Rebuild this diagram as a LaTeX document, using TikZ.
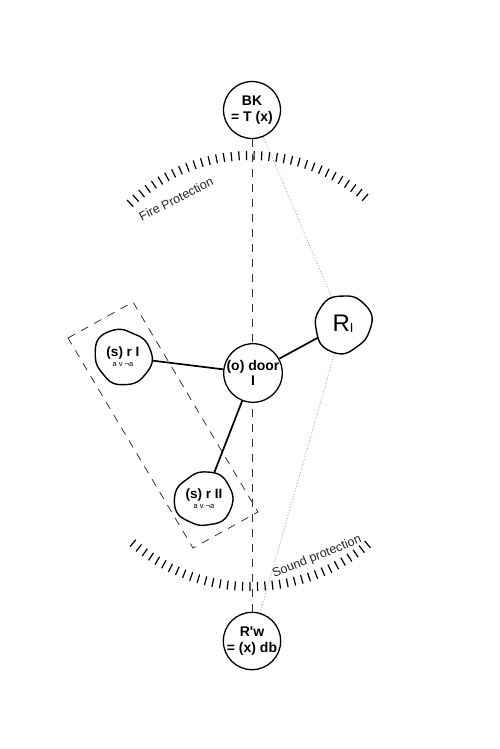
\documentclass[tikz,border=0pt]{standalone}
\usepackage{fontspec}
\setmainfont{Liberation Sans}
\usetikzlibrary{backgrounds}
\newcommand\myblob[4]{%
  \draw[blobline, shift={(#1.center)}] plot[smooth cycle, domain=0:350, samples=36, variable=\t]
    (\t:{#2*(1+#4*sin(2*\t+#3)+0.03*cos(3*\t+2*#3)+0.015*sin(7*\t+#3))});}
\begin{document}
\begin{tikzpicture}[x=1pt,y=-1pt,
  circ/.style={circle, draw, line width=1.3pt, fill=white, minimum size=57pt, inner sep=0pt,
    align=center, font=\fontsize{14}{15.5}\selectfont\bfseries},
  blobnode/.style={circle, minimum size=56pt, inner sep=0pt, align=center},
  blobline/.style={line width=1.4pt, fill=white},
  conn/.style={line width=1.7pt},
  dashv/.style={line width=0.9pt, dash pattern=on 8pt off 7pt, black!80},
  dashr/.style={line width=0.8pt, dash pattern=on 8pt off 7pt, black!80},
  dotl/.style={line width=0.8pt, dotted, black!40},
  tickm/.style={line width=1.2pt},
  lbl/.style={font=\fontsize{12.5}{13}\selectfont, text=black!85, inner sep=0pt}
]
\useasboundingbox (0,0) rectangle (500,749);

% nodes
\node[circ] (BK) at (252,110) {BK\\= T (x)};
\node[circ] (door) at (253,373) {(o) door\\I};
\node[circ] (Rw) at (252,641) {R\textquotesingle w\\= (x) db};
\node[blobnode] (rI) at (123,357) {{\fontsize{13.5}{14}\selectfont\bfseries (s) r I}\\[-2pt]{\fontsize{7.5}{8}\selectfont a v ¬a}};
\node[blobnode] (rII) at (204,499) {{\fontsize{13.5}{14}\selectfont\bfseries (s) r II}\\[-2pt]{\fontsize{7.5}{8}\selectfont a v ¬a}};
\node[blobnode] (RI) at (343,324) {{\fontsize{24}{24}\selectfont R}\raisebox{-1pt}{\fontsize{13}{13}\selectfont I}};

\node[lbl, rotate=27] (fire) at (176,199) {Fire Protection};
\node[lbl, rotate=22] (sound) at (317,557) {Sound protection};

\begin{scope}[on background layer]
  \fill[white] (0,0) rectangle (500,749);
  % tick arcs
  \foreach \i in {0,...,34} {
    \pgfmathsetmacro\a{-133.2+\i*83.5/34}
    \draw[tickm, shift={(251,332)}] (\a:172) -- (\a:181);
  }
  \foreach \i in {0,...,34} {
    \pgfmathsetmacro\a{50.3+\i*80/34}
    \draw[tickm, shift={(251,404)}] (\a:178) -- (\a:187);
  }
  % dashed rectangle
  \draw[dashr] (68,338) -- (133,302) -- (258,512) -- (193,548) -- cycle;
  % connectors
  \draw[dashv] (BK.south) -- (Rw.north);
  \draw[dotl] (BK) -- (RI);
  \draw[dotl] (RI) -- (Rw);
  \draw[conn] (rI) -- (door);
  \draw[conn] (door) -- (RI);
  \draw[conn] (door) -- (rII);
  % blobs
  \myblob{rI}{28}{20}{0.05}
  \myblob{rII}{28}{110}{0.05}
  \myblob{RI}{28.5}{200}{0.04}
\end{scope}
\end{tikzpicture}
\end{document}
